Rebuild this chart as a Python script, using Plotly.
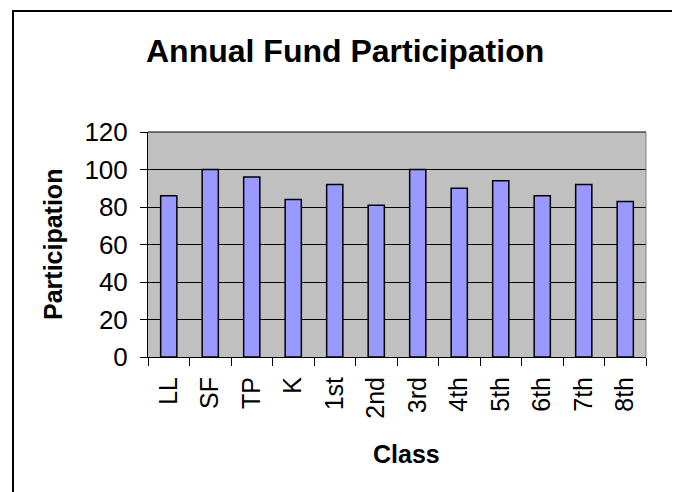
import plotly.graph_objects as go

categories = ["LL", "SF", "TP", "K", "1st", "2nd", "3rd", "4th", "5th", "6th", "7th", "8th"]
participation = [86, 100, 96, 84, 92, 81, 100, 90, 94, 86, 92, 83]
y_ticks = [0, 20, 40, 60, 80, 100, 120]

# page body margin offset (browser default 8px)
OFF = 8
W, H = 680 - OFF, 492 - OFF
L, R, T, B = 148 - OFF, 646 - OFF, 132 - OFF, 357 - OFF
pw, ph = R - L, B - T

def px(x):
    return (x - OFF - L) / pw

def py(y):
    return (B - (y - OFF)) / ph

fig = go.Figure(
    go.Bar(
        x=categories,
        y=participation,
        marker=dict(color="#9999FF", line=dict(color="black", width=1.5)),
        width=0.39,
    )
)

FONT = "Liberation Sans, Arial, sans-serif"

fig.update_layout(
    width=W,
    height=H,
    margin=dict(l=L, r=W - R, t=T, b=H - B, pad=0),
    paper_bgcolor="white",
    plot_bgcolor="#C0C0C0",
    showlegend=False,
    font=dict(family=FONT, color="black", size=25),
    xaxis=dict(
        type="category",
        tickangle=-90,
        tickson="boundaries",
        ticks="outside",
        ticklen=8,
        tickcolor="black",
        tickwidth=1,
        showline=True,
        linecolor="black",
        linewidth=1,
        showgrid=False,
        tickfont=dict(size=25),
        ticklabelstandoff=9,
    ),
    yaxis=dict(
        range=[0, 120],
        tickvals=y_ticks,
        ticks="outside",
        ticklen=7,
        tickcolor="black",
        showline=True,
        linecolor="black",
        linewidth=1,
        showgrid=True,
        gridcolor="black",
        gridwidth=1,
        zeroline=False,
        tickfont=dict(size=26),
        ticklabelstandoff=7,
    ),
    annotations=[
        dict(text="<b>Annual Fund Participation</b>", xref="paper", yref="paper",
             x=px(345), y=py(51), xanchor="center", yanchor="middle",
             showarrow=False, font=dict(size=32)),
        dict(text="<b>Participation</b>", xref="paper", yref="paper",
             x=px(53), y=py(245), xanchor="center", yanchor="middle",
             textangle=-90, showarrow=False, font=dict(size=25)),
        dict(text="<b>Class</b>", xref="paper", yref="paper",
             x=px(406), y=py(454), xanchor="center", yanchor="middle",
             showarrow=False, font=dict(size=25)),
    ],
    shapes=[
        dict(type="rect", xref="paper", yref="paper",
             x0=px(13), x1=px(676), y0=py(520), y1=py(11),
             line=dict(color="black", width=2), fillcolor="rgba(0,0,0,0)", layer="above"),
        dict(type="line", xref="paper", yref="paper",
             x0=1, x1=1, y0=0, y1=1,
             line=dict(color="#808080", width=1), layer="above"),
        dict(type="line", xref="paper", yref="paper",
             x0=0, x1=1, y0=1, y1=1,
             line=dict(color="black", width=1), layer="below"),
    ],
)

fig.write_html("out.html")
